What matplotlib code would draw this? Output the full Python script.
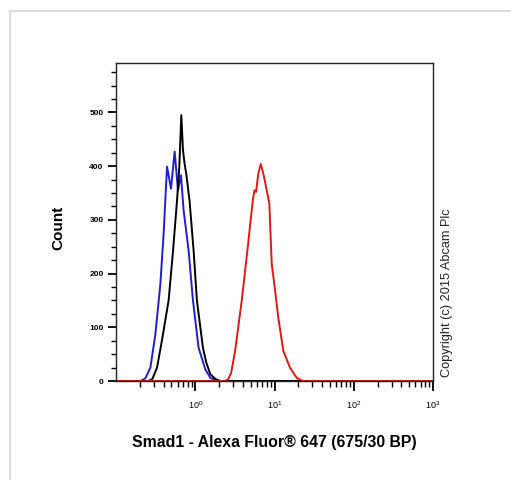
import numpy as np
import matplotlib
matplotlib.use("Agg")
import matplotlib.pyplot as plt
from matplotlib.lines import Line2D
from matplotlib.ticker import LogLocator, MultipleLocator, FixedLocator, NullFormatter

plt.rcParams['font.family'] = ['Liberation Sans', 'DejaVu Sans']

# Data: log10 fluorescence and counts
blue_log = [-1.0, -0.692, -0.629, -0.566, -0.503, -0.440, -0.399, -0.356, -0.306,
            -0.260, -0.218, -0.180, -0.147, -0.084, -0.029, 0.042, 0.126, 0.189,
            0.273, 3.0]
blue_cnt = [0, 0, 5, 25, 87, 181, 274, 399, 358,
            427, 355, 383, 318, 243, 150, 62, 22, 6,
            0, 0]

black_log = [-1.0, -0.591, -0.541, -0.482, -0.415, -0.336, -0.280, -0.230, -0.201,
             -0.176, -0.155, -0.135, -0.113, -0.072, -0.021, 0.021, 0.097, 0.138,
             0.189, 0.252, 0.314, 3.0]
black_cnt = [0, 0, 4, 25, 80, 150, 243, 336, 399,
             495, 430, 405, 385, 336, 243, 150, 62, 35,
             13, 4, 0, 0]

red_log = [-1.0, 0.365, 0.415, 0.453, 0.503, 0.587, 0.658, 0.726, 0.746, 0.767,
           0.796, 0.826, 0.859, 0.902, 0.935, 0.965, 0.997, 1.048, 1.111,
           1.195, 1.279, 1.358, 3.0]
red_cnt = [0, 0, 3, 15, 56, 150, 243, 336, 355, 352,
           386, 404, 386, 355, 330, 218, 181, 118, 56,
           25, 6, 0, 0]

xlabel = "Smad1 - Alexa Fluor\u00ae 647 (675/30 BP)"
ylabel = "Count"
copyright_text = "Copyright (c) 2015 Abcam Plc"
y_major = [0, 100, 200, 300, 400, 500]
x_major = [1, 10, 100, 1000]
x_major_labels = [r"$\mathregular{10^{0}}$", r"$\mathregular{10^{1}}$",
                  r"$\mathregular{10^{2}}$", r"$\mathregular{10^{3}}$"]

fig = plt.figure(figsize=(5.11, 4.80), dpi=100)
W, H = 511, 480
ax = fig.add_axes([116 / W, 1 - 381 / H, (433 - 116) / W, (381 - 63) / H])

ax.plot(10 ** np.array(blue_log), blue_cnt, color='#1f1fd0', lw=1.4)
ax.plot(10 ** np.array(black_log), black_cnt, color='black', lw=1.4)
ax.plot(10 ** np.array(red_log), red_cnt, color='#e01818', lw=1.4)

ax.set_xscale('log')
ax.set_xlim(0.1, 1000)
ax.set_ylim(0, 592)

ax.xaxis.set_major_locator(FixedLocator(x_major))
ax.xaxis.set_minor_locator(LogLocator(base=10, subs=np.arange(2, 10), numticks=20))
ax.xaxis.set_minor_formatter(NullFormatter())
ax.set_xticklabels(x_major_labels)
ax.yaxis.set_major_locator(FixedLocator(y_major))
ax.yaxis.set_minor_locator(MultipleLocator(25))

ax.tick_params(axis='x', which='major', direction='out', length=7, width=1.3,
               labelsize=6.5, pad=6)
ax.tick_params(axis='x', which='minor', direction='out', length=4, width=1.0)
ax.tick_params(axis='y', which='major', direction='out', length=6, width=1.3,
               labelsize=6, pad=3)
ax.tick_params(axis='y', which='minor', direction='out', length=3.5, width=1.0)
for lab in ax.get_yticklabels():
    lab.set_fontweight('bold')

for s in ax.spines.values():
    s.set_linewidth(1.0)
    s.set_color('#222222')

ax.set_xlabel(xlabel, fontsize=11.4, fontweight='bold')
ax.xaxis.set_label_coords(0.5, -0.17)
ax.set_ylabel(ylabel, fontsize=11, fontweight='bold')
ax.yaxis.set_label_coords(-0.16, 0.48)

fig.text(447 / W, 1 - 377 / H, copyright_text, rotation=90, fontsize=9.2,
         ha='center', va='bottom', color='#222222')

# light grey frame of the panel
fig.add_artist(Line2D([9.5 / W, 9.5 / W], [0, 1 - 11 / H], color='#dcdcdc', lw=1.5,
                      transform=fig.transFigure))
fig.add_artist(Line2D([9.5 / W, 1], [1 - 11 / H, 1 - 11 / H], color='#dcdcdc', lw=1.5,
                      transform=fig.transFigure))

fig.savefig('out.png', dpi=100)
